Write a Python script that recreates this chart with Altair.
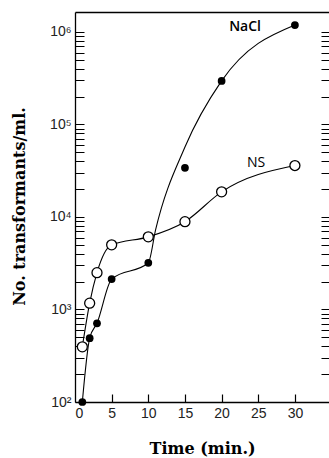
import altair as alt
import pandas as pd

# ---- data ----
nacl_time = [1, 2, 3, 5, 10, 15, 20, 30]
nacl_value = [100, 490, 710, 2130, 3200, 34000, 296000, 1190000]
ns_time = [1, 2, 3, 5, 10, 15, 20, 30]
ns_value = [395, 1170, 2500, 5000, 6100, 8900, 18700, 36000]

# smooth curves as drawn in the figure
nacl_curve_time = [1, 2, 3, 5, 10, 11, 15, 20, 30]
nacl_curve_value = [100, 490, 710, 2130, 3200, 7300, 57000, 296000, 1190000]
ns_curve_time = [1, 2, 3, 5, 10, 15, 20, 30]
ns_curve_value = [395, 1170, 2500, 5000, 6100, 8900, 18700, 36000]

label_text = ["NaCl", "NS"]
label_time = [23.2, 24.7]
label_value = [1130000, 38400]

x_label_values = [0, 5, 10, 15, 20, 25, 30]
x_tick_values = [5, 10, 15, 20, 25, 30]
y_label_values = [100, 1000, 10000, 100000, 1000000]
y_tick_values = [m * d for d in [100, 1000, 10000, 100000] for m in range(1, 10)] + [1000000]

W, H = 254, 390
X_DOMAIN = [0, 34.65]
Y_DOMAIN = [100, 1645000]

nacl_pts = pd.DataFrame({"t": nacl_time, "v": nacl_value})
ns_pts = pd.DataFrame({"t": ns_time, "v": ns_value})
nacl_curve = pd.DataFrame({"t": nacl_curve_time, "v": nacl_curve_value})
ns_curve = pd.DataFrame({"t": ns_curve_time, "v": ns_curve_value})
labels_df = pd.DataFrame({"t": label_time, "v": label_value, "txt": label_text})

xs = alt.Scale(domain=X_DOMAIN, nice=False, zero=False)
ys = alt.Scale(type="log", domain=Y_DOMAIN, nice=False)

sup = "['⁰','¹','²','³','⁴','⁵','⁶','⁷']"
y_label_expr = "'10' + " + sup + "[round(log(datum.value)/LN10)]"

# Layer A: NS curve -> bottom x axis and left y axis (labels, titles, domain lines)
ax_bottom = alt.Axis(orient="bottom", values=x_label_values, ticks=False, domain=True,
                     domainColor="black", domainWidth=1.3, grid=False,
                     labelFont="Liberation Sans", labelFontSize=14, labelColor="#222",
                     labelPadding=4, labelOverlap=False,
                     labelAlign={"condition": {"test": "datum.value == 0", "value": "left"}, "value": "center"},
                     title="Time (min.)", titleFont="DejaVu Serif", titleFontSize=16,
                     titleFontWeight="bold", titleColor="black", titleY=51, titleBaseline="alphabetic")
ax_left = alt.Axis(orient="left", values=y_label_values, ticks=False, domain=True,
                   domainColor="black", domainWidth=1.3, grid=False,
                   labelExpr=y_label_expr, labelFont="Liberation Sans", labelFontSize=14,
                   labelColor="#222", labelPadding=4, labelBaseline="middle", labelOverlap=False,
                   title="No. transformants/ml.", titleFont="DejaVu Serif", titleFontSize=16,
                   titleFontWeight="bold", titleColor="black", titleAngle=-90,
                   titleX=-51, titleY=194, titleBaseline="alphabetic", titleAlign="center")
layer_a = alt.Chart(ns_curve).mark_line(color="black", strokeWidth=1.1, interpolate="monotone").encode(
    x=alt.X("t:Q", scale=xs, axis=ax_bottom),
    y=alt.Y("v:Q", scale=ys, axis=ax_left),
)

layer_b = alt.Chart(nacl_curve).mark_line(color="black", strokeWidth=1.1, interpolate="monotone").encode(
    x=alt.X("t:Q", scale=xs, axis=None),
    y=alt.Y("v:Q", scale=ys, axis=None),
)

# Layer C: NaCl points -> top frame line and ticks along the right edge
ax_top = alt.Axis(orient="top", ticks=False, labels=False, domain=True, domainColor="black",
                  domainWidth=1.3, grid=False, title="")
ax_yticks_r = alt.Axis(orient="left", offset=-W, values=y_tick_values, ticks=True, tickSize=8,
                       tickColor="black", tickWidth=1, labels=False, domain=False, grid=False, title="")
layer_c = alt.Chart(nacl_pts).mark_point(filled=True, shape="circle", size=60, color="black", opacity=1).encode(
    x=alt.X("t:Q", scale=xs, axis=ax_top),
    y=alt.Y("v:Q", scale=ys, axis=ax_yticks_r),
)

# Layer D: NS points -> inward ticks: axes shifted inside by their own tick length
ax_xticks_in = alt.Axis(orient="bottom", offset=-8, values=x_tick_values, ticks=True, tickSize=8,
                        tickColor="black", tickWidth=1.2, labels=False, domain=False, grid=False, title="")
ax_yticks_in = alt.Axis(orient="left", offset=-9, values=y_tick_values, ticks=True, tickSize=9,
                        tickColor="black", tickWidth=1, labels=False, domain=False, grid=False, title="")
layer_d = alt.Chart(ns_pts).mark_point(shape="circle", size=100, fill="white", stroke="black",
                                        strokeWidth=1.3, opacity=1, fillOpacity=1).encode(
    x=alt.X("t:Q", scale=xs, axis=ax_xticks_in),
    y=alt.Y("v:Q", scale=ys, axis=ax_yticks_in),
)

layer_e1 = alt.Chart(labels_df).transform_filter("datum.txt == 'NaCl'").mark_text(
    font="Open Sans", fontSize=14, fontWeight=600, color="black", align="center", baseline="middle"
).encode(
    x=alt.X("t:Q", scale=xs, axis=None),
    y=alt.Y("v:Q", scale=ys, axis=None),
    text="txt:N",
)
layer_e2 = alt.Chart(labels_df).transform_filter("datum.txt == 'NS'").mark_text(
    font="Open Sans", fontSize=14, color="black", align="center", baseline="middle"
).encode(
    x=alt.X("t:Q", scale=xs, axis=None),
    y=alt.Y("v:Q", scale=ys, axis=None),
    text="txt:N",
)

chart = alt.layer(layer_a, layer_b, layer_c, layer_d, layer_e1, layer_e2).resolve_axis(
    x="independent", y="independent"
).properties(
    width=W, height=H,
    background="white",
    autosize=alt.AutoSizeParams(type="none"),
    padding={"left": 75, "top": 12, "right": 0, "bottom": 56},
).configure_view(stroke=None)

chart.save("out.html", embed_options={"renderer": "svg", "actions": False})
